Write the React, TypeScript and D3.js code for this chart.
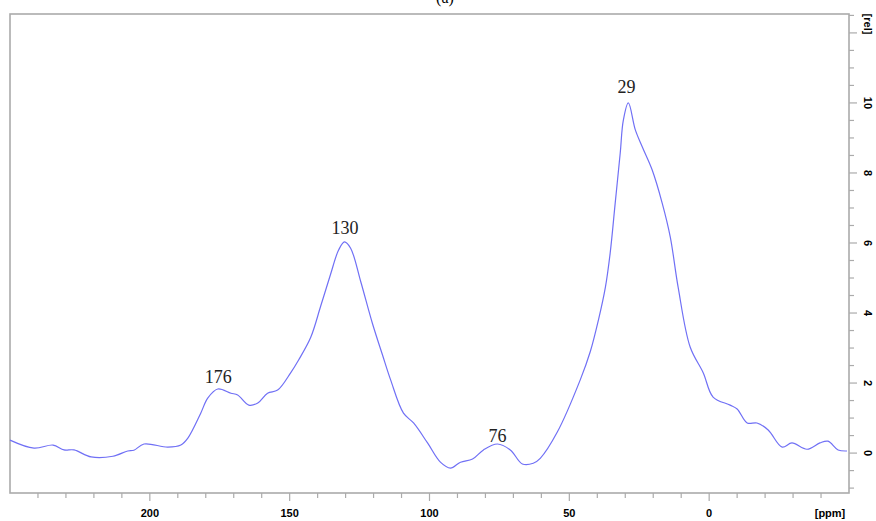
import React, { useEffect, useRef } from 'react';
import * as d3 from 'd3';

// chemical shift (ppm) and intensity (rel)
const shifts = [
  250, 241.4, 234.6, 230.7, 227.1, 221, 213.2, 207.9, 205.7, 202.1, 193.6, 188.9,
  186.4, 181.8, 179.3, 175.7, 171, 168.6, 164.6, 161.4, 157.9, 154.3, 149.6, 146.8,
  142.5, 138.9, 135.4, 132.5, 130.4, 128.2, 124.6, 120.4, 116.8, 113.9, 109.3, 105.7,
  100.7, 96.1, 92.5, 88.9, 84.6, 80.7, 75.7, 71.1, 66.8, 62.9, 60.4, 54.3, 46.1,
  42.5, 39.6, 37.1, 35.4, 33.6, 31.8, 30.7, 28.9, 26.4, 23.9, 20.4, 16.8, 13.9,
  11.1, 6.8, 2.1, -1.4, -7.5, -10, -13.6, -17.1, -21.1, -26.1, -29.6, -35, -39.6,
  -42.5, -46.1, -49.3,
];
const intensity = [
  0.37, 0.14, 0.23, 0.09, 0.09, -0.11, -0.09, 0.06, 0.08, 0.26, 0.17, 0.23,
  0.43, 1.14, 1.57, 1.83, 1.71, 1.66, 1.37, 1.43, 1.71, 1.8, 2.3, 2.66,
  3.3, 4.2, 5.1, 5.8, 6.03, 5.85, 4.9, 3.7, 2.8, 2.09, 1.14, 0.86,
  0.29, -0.26, -0.43, -0.26, -0.17, 0.09, 0.26, 0.09, -0.31, -0.29, -0.15, 0.6, 2.09,
  2.9, 3.8, 4.74, 5.71, 7.14, 8.57, 9.5, 10.0, 9.23, 8.74, 8.09, 7.14, 6.17,
  4.74, 3.03, 2.29, 1.6, 1.37, 1.26, 0.86, 0.86, 0.66, 0.17, 0.29, 0.11, 0.29,
  0.34, 0.09, 0.06,
];

// peak annotations: text, shift, and the height (rel) of the text baseline
const peakLabels = ['176', '130', '76', '29'];
const peakShifts = [175.5, 130.2, 75.7, 29.6];
const labelLevels = [2.0, 6.26, 0.31, 10.29];

const xMajor = [200, 150, 100, 50, 0];
const yMajor = [0, 2, 4, 6, 8, 10];

const W = 876;
const H = 521;
const frame = { left: 10, right: 849, top: 14, bottom: 493 };
const axisColor = '#ababab';
const sans = '"Liberation Sans", Arial, sans-serif';
const serif = '"Liberation Serif", "Times New Roman", serif';

export default function App() {
  const ref = useRef<SVGSVGElement>(null);

  useEffect(() => {
    const svg = d3.select(ref.current);
    svg.selectAll('*').remove();

    const x = d3.scaleLinear().domain([250, -50]).range([frame.left, frame.right]);
    const y = d3.scaleLinear().domain([-1.14, 12.54]).range([frame.bottom, frame.top]);

    // title, cut off at the top as in the original
    svg.append('text')
      .attr('x', 445).attr('y', 3)
      .attr('text-anchor', 'middle')
      .style('font-family', serif)
      .style('font-size', '16px')
      .text('(a)');

    // frame
    svg.append('rect')
      .attr('x', frame.left).attr('y', frame.top)
      .attr('width', frame.right - frame.left)
      .attr('height', frame.bottom - frame.top)
      .attr('fill', 'none')
      .attr('stroke', axisColor)
      .attr('stroke-width', 1.6);

    // x ticks every 10 ppm, long ones at multiples of 50
    const xTicks = d3.range(-40, 250, 10);
    svg.append('g').selectAll('line')
      .data(xTicks)
      .enter().append('line')
      .attr('x1', d => x(d)).attr('x2', d => x(d))
      .attr('y1', frame.bottom)
      .attr('y2', d => frame.bottom + (d % 50 === 0 ? 8 : 5))
      .attr('stroke', axisColor).attr('stroke-width', 1.2);

    svg.append('g').selectAll('text')
      .data(xMajor)
      .enter().append('text')
      .attr('x', d => x(d)).attr('y', 517)
      .attr('text-anchor', 'middle')
      .style('font-family', sans)
      .style('font-weight', 'bold')
      .style('font-size', '11px')
      .text(d => d);

    svg.append('text')
      .attr('x', 830).attr('y', 517)
      .attr('text-anchor', 'middle')
      .style('font-family', sans)
      .style('font-weight', 'bold')
      .style('font-size', '11px')
      .text('[ppm]');

    // y ticks every 0.5, on the right
    const yTicks = d3.range(-1, 12.51, 0.5);
    svg.append('g').selectAll('line')
      .data(yTicks)
      .enter().append('line')
      .attr('x1', frame.right)
      .attr('x2', d => frame.right + (Math.abs(d % 2) < 1e-6 ? 8 : 5))
      .attr('y1', d => y(d)).attr('y2', d => y(d))
      .attr('stroke', axisColor).attr('stroke-width', 1.2);

    svg.append('g').selectAll('text')
      .data(yMajor)
      .enter().append('text')
      .attr('transform', d => `translate(864,${y(d)}) rotate(90)`)
      .attr('text-anchor', 'middle')
      .style('font-family', sans)
      .style('font-weight', 'bold')
      .style('font-size', '11px')
      .text(d => d);

    svg.append('text')
      .attr('transform', `translate(864,24) rotate(90)`)
      .attr('text-anchor', 'middle')
      .style('font-family', sans)
      .style('font-weight', 'bold')
      .style('font-size', '11px')
      .text('[rel]');

    // spectrum
    const pts = shifts.map((s, i) => [s, intensity[i]] as [number, number]);
    const line = d3.line<[number, number]>()
      .x(d => x(d[0]))
      .y(d => y(d[1]))
      .curve(d3.curveCatmullRom.alpha(0.5));

    svg.append('path')
      .datum(pts)
      .attr('d', line)
      .attr('fill', 'none')
      .attr('stroke', '#7070f5')
      .attr('stroke-width', 1.2);

    // peak labels
    svg.append('g').selectAll('text')
      .data(peakLabels)
      .enter().append('text')
      .attr('x', (d, i) => x(peakShifts[i]))
      .attr('y', (d, i) => y(labelLevels[i]))
      .attr('text-anchor', 'middle')
      .style('font-family', serif)
      .style('font-size', '18px')
      .attr('fill', '#222')
      .text(d => d);
  }, []);

  return (
    <svg
      ref={ref}
      width={W}
      height={H}
      style={{ position: 'absolute', left: 0, top: 0, background: '#fff' }}
    />
  );
}
